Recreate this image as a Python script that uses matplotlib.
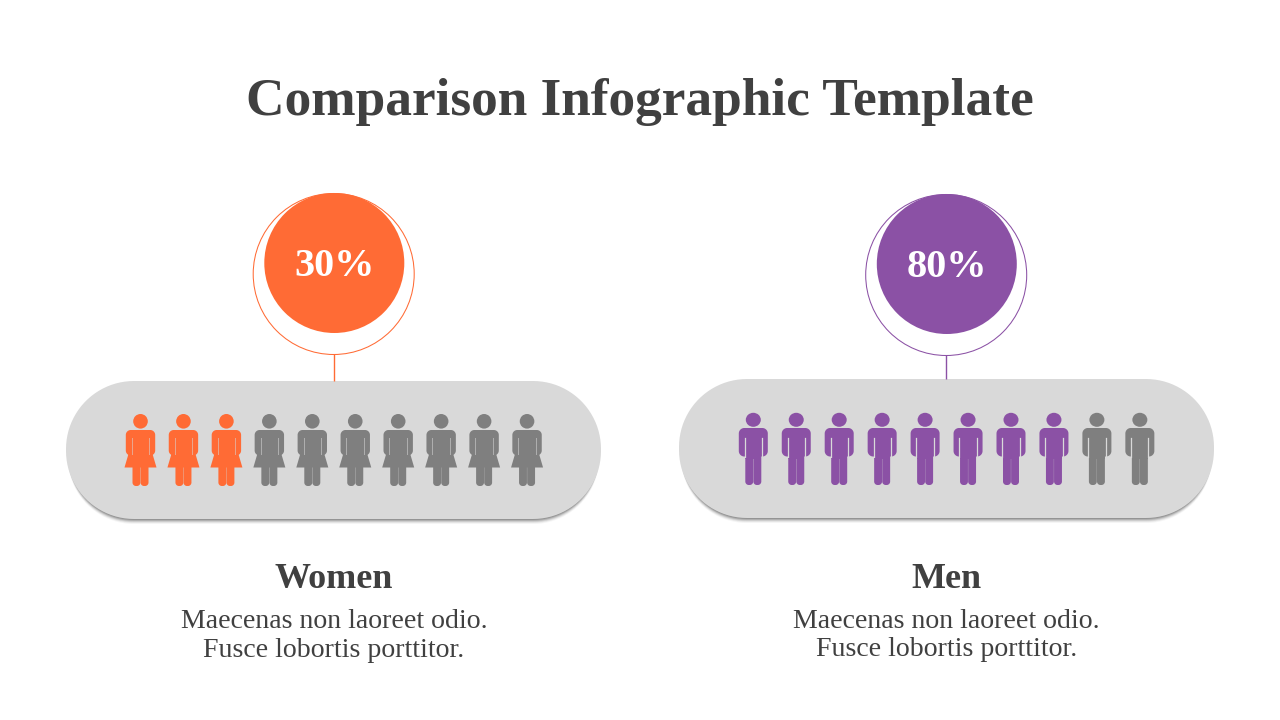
import matplotlib
matplotlib.use("Agg")
import matplotlib.pyplot as plt
import numpy as np
from matplotlib.patches import Circle, Ellipse, Polygon

TITLE = "Comparison Infographic Template"
GROUPS = ["Women", "Men"]
PERCENTS = [30, 80]
ICON_TOTAL = 10
BODY_LINES = ["Maecenas non laoreet odio.", "Fusce lobortis porttitor."]
COLORS = ["#FF6B35", "#8B51A5"]
GRAY = "#7F7F7F"
PILL = "#D9D9D9"
TEXT = "#404040"
SERIF = ["Liberation Serif", "DejaVu Serif"]

fig = plt.figure(figsize=(12.8, 7.2), dpi=100, facecolor="white")
ax = fig.add_axes([0, 0, 1, 1])
ax.set_xlim(0, 1280)
ax.set_ylim(720, 0)
ax.axis("off")


def rbox(x0, y0, x1, y1, r, color, z, alpha=1.0):
    # rounded rectangle with true circular corners
    t = np.linspace(0, np.pi / 2, 24)
    pts = []
    for (ox, oy, start) in [(x1 - r, y1 - r, 0), (x0 + r, y1 - r, np.pi / 2),
                            (x0 + r, y0 + r, np.pi), (x1 - r, y0 + r, 1.5 * np.pi)]:
        pts.append(np.c_[ox + r * np.cos(t + start), oy + r * np.sin(t + start)])
    ax.add_patch(Polygon(np.vstack(pts), closed=True, fc=color, ec="none", zorder=z, alpha=alpha))


def woman(cx, top, c):
    ax.add_patch(Circle((cx, top + 7.3), 7.3, fc=c, ec="none", zorder=5))
    rbox(cx - 14.7, top + 16, cx + 14.7, top + 41.5, 5, c, 5)
    ax.add_patch(Polygon([(cx - 8.5, top + 28), (cx + 8.5, top + 28), (cx + 16, top + 53.5),
                          (cx - 16, top + 53.5)], closed=True, fc=c, ec="none", zorder=5))
    rbox(cx - 8, top + 50, cx - 0.1, top + 72, 3.5, c, 5)
    rbox(cx + 0.1, top + 50, cx + 8, top + 72, 3.5, c, 5)
    for s in (-1, 1):
        ax.plot([cx + s * 8.8] * 2, [top + 24, top + 40], color=PILL, alpha=0.55, lw=0.7, zorder=6)


def man(cx, top, c):
    ax.add_patch(Ellipse((cx, top + 6.8), 15, 14, fc=c, ec="none", zorder=5))
    rbox(cx - 14.5, top + 15, cx + 14.5, top + 43.5, 5.5, c, 5)
    ax.add_patch(Polygon([(cx - 8, top + 20), (cx + 8, top + 20), (cx + 8, top + 46), (cx - 8, top + 46)],
                         closed=True, fc=c, ec="none", zorder=5))
    rbox(cx - 8, top + 40, cx - 0.1, top + 72, 3.5, c, 5)
    rbox(cx + 0.1, top + 40, cx + 8, top + 72, 3.5, c, 5)
    for s in (-1, 1):
        ax.plot([cx + s * 8.6] * 2, [top + 25, top + 44], color=PILL, lw=0.9, zorder=6)


LAYOUT = [
    dict(cx=334, pill=(66, 381, 601, 519), cy=263, ry=274, x0=140.5, top=414, label=580, body=(622, 650.5), draw=woman),
    dict(cx=946.5, pill=(679, 379, 1214, 518), cy=264, ry=275, x0=753.3, top=413, label=579, body=(621, 649.5), draw=man),
]

ax.text(640, 102, TITLE, ha="center", va="center", fontsize=38.4, fontweight="bold",
        family=SERIF, color=TEXT)

for name, pct, c, L in zip(GROUPS, PERCENTS, COLORS, LAYOUT):
    x0, y0, x1, y1 = L["pill"]
    # soft shadow under the pill
    for d, a in [(6, .06), (5, .10), (4, .16), (3, .24), (2, .30)]:
        rbox(x0 + 2, y0 + d, x1 - 2, y1 + d - 1, 66, "#555555", 1, alpha=a)
    rbox(x0, y0, x1, y1, 68, PILL, 2)
    ax.plot([L["cx"] - 0.3] * 2, [L["cy"] + 60, y0], color=c, lw=1.0, zorder=3, solid_capstyle="butt")
    ax.add_patch(Circle((L["cx"] - 0.3, L["ry"]), 80.5, fc="white", ec=c, lw=0.75, zorder=3))
    ax.add_patch(Circle((L["cx"] + 0.3, L["cy"]), 70, fc=c, ec="none", zorder=4))
    ax.text(L["cx"] + 0.5, L["cy"] + 3.5, f"{pct}%", ha="center", va="center", fontsize=29,
            fontweight="bold", family=SERIF, color="white", zorder=6)
    filled = round(pct / 100 * ICON_TOTAL)
    for i in range(ICON_TOTAL):
        L["draw"](L["x0"] + i * 42.95, L["top"], c if i < filled else GRAY)
    ax.text(L["cx"], L["label"], name, ha="center", va="center", fontsize=26, fontweight="bold",
            family=SERIF, color=TEXT)
    for line, y in zip(BODY_LINES, L["body"]):
        ax.text(L["cx"], y, line, ha="center", va="center", fontsize=20.1, family=SERIF, color=TEXT)

fig.savefig("out.png", dpi=100)
